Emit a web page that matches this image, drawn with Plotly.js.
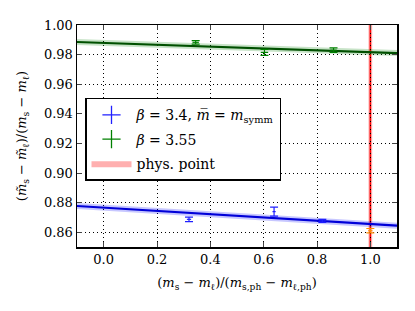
<!DOCTYPE html>
<html><head><meta charset="utf-8">
<script src="https://cdn.plot.ly/plotly-3.0.1.min.js"></script>
<style>html,body{margin:0;padding:0;background:#fff}#c{width:415px;height:311px}</style>
</head><body><div id="c"></div>
<script>
// Data
const blueX = [0.32, 0.639, 0.82];
const blueY = [0.8687, 0.8739, 0.8676];
const blueErrY = [0.0015, 0.003, 0.001];
const blueErrX = [0.008, 0.006, 0.012];
const greenX = [0.345, 0.603, 0.862];
const greenY = [0.9883, 0.9815, 0.983];
const greenErrY = [0.0012, 0.002, 0.0015];
const greenErrX = [0.012, 0.014, 0.012];
const physX = [1.0];
const physY = [0.861];
const physErrY = [0.0015];
const physErrX = [0.008];
const fitX = [-0.1, 1.1];
const blueFit = [0.8777, 0.8644];
const greenFit = [0.9885, 0.9810];
const physBand = [0.993, 1.007];
const xTicks = [0.0, 0.2, 0.4, 0.6, 0.8, 1.0];
const xTickText = ["0.0", "0.2", "0.4", "0.6", "0.8", "1.0"];
const yTicks = [0.86, 0.88, 0.90, 0.92, 0.94, 0.96, 0.98, 1.00];
const yTickText = ["0.86", "0.88", "0.90", "0.92", "0.94", "0.96", "0.98", "1.00"];

const F = "DejaVu Serif, serif";
const BLUE = '#2020ff', GREEN = '#008000', ORANGE = '#ff8c00';
const traces = [
  {x: fitX, y: blueFit, mode: 'lines', line: {color: 'rgba(0,0,255,0.22)', width: 6}, showlegend: false, hoverinfo: 'skip'},
  {x: fitX, y: blueFit, mode: 'lines', line: {color: '#0000d8', width: 2.2}, showlegend: false},
  {x: fitX, y: greenFit, mode: 'lines', line: {color: 'rgba(0,128,0,0.22)', width: 6}, showlegend: false, hoverinfo: 'skip'},
  {x: fitX, y: greenFit, mode: 'lines', line: {color: '#005000', width: 2.2}, showlegend: false},
  {x: blueX, y: blueY, mode: 'markers', marker: {size: 1, color: 'rgba(0,0,0,0)'},
   error_y: {type: 'data', array: blueErrY, color: BLUE, thickness: 1.2, width: 4},
   error_x: {type: 'data', array: blueErrX, color: BLUE, thickness: 1.2, width: 0}, showlegend: false},
  {x: greenX, y: greenY, mode: 'markers', marker: {size: 1, color: 'rgba(0,0,0,0)'},
   error_y: {type: 'data', array: greenErrY, color: GREEN, thickness: 1.2, width: 4},
   error_x: {type: 'data', array: greenErrX, color: GREEN, thickness: 1.2, width: 0}, showlegend: false},
  {x: physX, y: physY, mode: 'markers', marker: {size: 1, color: 'rgba(0,0,0,0)'},
   error_y: {type: 'data', array: physErrY, color: ORANGE, thickness: 1.2, width: 4},
   error_x: {type: 'data', array: physErrX, color: ORANGE, thickness: 1.2, width: 0}, showlegend: false},
  // legend-only entries
  {x: [null], y: [null], mode: 'markers', legendgroup: 'a', name: '<i>β</i> = 3.4, <i>m̅</i> = <i>m</i><sub>symm</sub>',
   marker: {symbol: 'cross-thin-open', size: 13, color: BLUE, line: {color: BLUE, width: 1.3}}},
  {x: [null], y: [null], mode: 'markers', legendgroup: 'b', name: '<i>β</i> = 3.55',
   marker: {symbol: 'cross-thin-open', size: 13, color: GREEN, line: {color: GREEN, width: 1.3}}},
  {x: [null], y: [null], mode: 'lines', legendgroup: 'c', fill: 'toself', fillcolor: 'rgba(255,110,110,0.55)',
   line: {width: 0, color: 'rgba(255,110,110,0.55)'}, name: 'phys. point'}
];

const layout = {
  width: 415, height: 311,
  margin: {l: 77, r: 18, t: 25, b: 64},
  paper_bgcolor: '#fff', plot_bgcolor: '#fff',
  font: {family: F, size: 13, color: '#000'},
  showlegend: true,
  legend: {x: 0.025, y: 0.672, xanchor: 'left', yanchor: 'top', bgcolor: '#fff',
           bordercolor: '#000', borderwidth: 1.5, font: {family: F, size: 14},
           traceorder: 'grouped', tracegroupgap: 3, itemwidth: 40},
  xaxis: {range: [-0.1, 1.1], tickvals: xTicks, ticktext: xTickText, ticks: 'inside', ticklen: 5,
          showline: true, linecolor: '#000', linewidth: 1.5, mirror: 'allticks',
          showgrid: true, gridcolor: '#000', griddash: '1px,3px', gridwidth: 1, zeroline: false,
          tickfont: {family: F, size: 13},
          title: {text: '(<i>m</i><sub>s</sub> − <i>m</i><sub>ℓ</sub>)/(<i>m</i><sub>s,ph</sub> − <i>m</i><sub>ℓ,ph</sub>)', font: {family: F, size: 13}, standoff: 12}},
  yaxis: {range: [0.85, 1.0], tickvals: yTicks, ticktext: yTickText, ticks: 'inside', ticklen: 5,
          showline: true, linecolor: '#000', linewidth: 1.5, mirror: 'allticks',
          showgrid: true, gridcolor: '#000', griddash: '1px,3px', gridwidth: 1, zeroline: false,
          tickfont: {family: F, size: 13},
          title: {text: '(<i>m̃</i><sub>s</sub> − <i>m̃</i><sub>ℓ</sub>)/(<i>m</i><sub>s</sub> − <i>m</i><sub>ℓ</sub>)', font: {family: F, size: 13}, standoff: 14}},
  shapes: [
    {type: 'rect', xref: 'x', yref: 'paper', x0: physBand[0], x1: physBand[1], y0: 0, y1: 1,
     fillcolor: 'rgba(255,80,80,0.45)', line: {width: 0}, layer: 'below'},
    {type: 'line', xref: 'x', yref: 'paper', x0: physX[0], x1: physX[0], y0: 0, y1: 1,
     line: {color: '#ff0000', width: 1.5}, layer: 'below'}
  ]
};
Plotly.newPlot('c', traces, layout, {displayModeBar: false, staticPlot: true});
</script></body></html>
